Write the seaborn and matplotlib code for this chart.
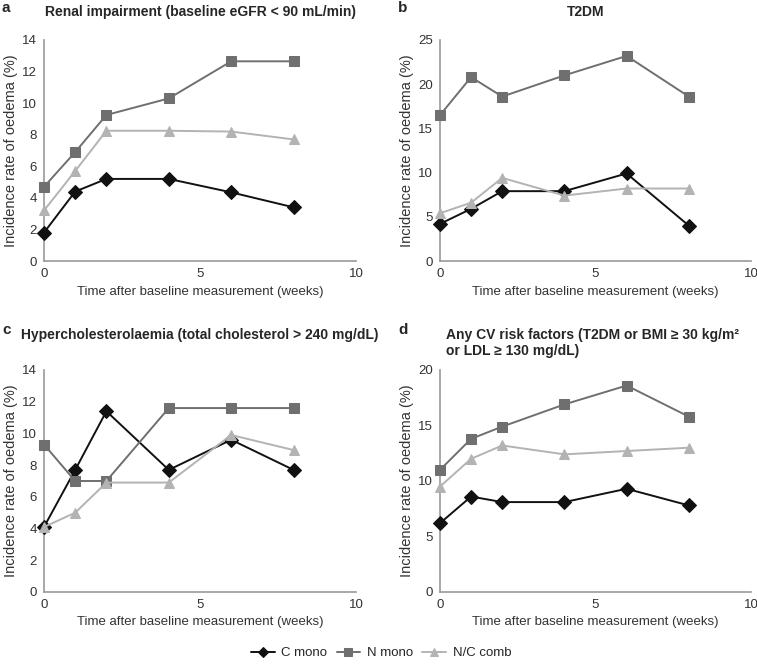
import pandas as pd
import matplotlib.pyplot as plt
import seaborn as sns

weeks = [0, 1, 2, 4, 6, 8]
series_names = ["C mono", "N mono", "N/C comb"]

# panel a - renal impairment
renal_c = [1.8, 4.4, 5.2, 5.2, 4.35, 3.4]
renal_n = [4.7, 6.9, 9.25, 10.3, 12.65, 12.65]
renal_nc = [3.2, 5.7, 8.25, 8.25, 8.2, 7.7]

# panel b - T2DM
t2dm_c = [4.2, 5.9, 7.9, 7.9, 9.9, 4.0]
t2dm_n = [16.5, 20.8, 18.6, 21.0, 23.2, 18.6]
t2dm_nc = [5.4, 6.6, 9.4, 7.4, 8.2, 8.2]

# panel c - hypercholesterolaemia
chol_c = [4.1, 7.7, 11.4, 7.7, 9.6, 7.7]
chol_n = [9.3, 7.0, 7.0, 11.6, 11.6, 11.6]
chol_nc = [4.1, 5.0, 6.9, 6.9, 9.9, 8.95]

# panel d - any CV risk factor
cv_c = [6.2, 8.6, 8.1, 8.1, 9.3, 7.8]
cv_n = [11.0, 13.8, 14.9, 16.9, 18.6, 15.8]
cv_nc = [9.5, 12.0, 13.2, 12.4, 12.7, 13.0]

panel_letters = ["a", "b", "c", "d"]
panel_titles = [
    "Renal impairment (baseline eGFR < 90 mL/min)",
    "T2DM",
    "Hypercholesterolaemia (total cholesterol > 240 mg/dL)",
    "Any CV risk factors (T2DM or BMI \u2265 30 kg/m\u00b2\nor LDL \u2265 130 mg/dL)",
]
y_limits = [(0, 14, 2), (0, 25, 5), (0, 14, 2), (0, 20, 5)]
panel_data = [
    (renal_c, renal_n, renal_nc),
    (t2dm_c, t2dm_n, t2dm_nc),
    (chol_c, chol_n, chol_nc),
    (cv_c, cv_n, cv_nc),
]

colors = {"C mono": "#111111", "N mono": "#6f6f6f", "N/C comb": "#b3b3b3"}
markers = {"C mono": "D", "N mono": "s", "N/C comb": "^"}
msizes = {"C mono": 7, "N mono": 7, "N/C comb": 6.5}

sns.set_style("white")
plt.rcParams["font.family"] = ["Liberation Sans", "DejaVu Sans"]

fig = plt.figure(figsize=(7.57, 6.69), dpi=100)
W, H = 757, 669
# axes boxes in pixels: left, top, right, bottom
boxes = [(44, 40, 356, 261), (440, 40, 751, 261), (44, 370, 356, 592), (440, 370, 751, 592)]
# letter / title offsets above the axes top
letter_off = [32, 32, 40, 40]
title_off = [28, 28, 35, 27]

for i, box in enumerate(boxes):
    l, t, r, b = box
    ax = fig.add_axes([l / W, 1 - b / H, (r - l) / W, (b - t) / H])
    c_vals, n_vals, nc_vals = panel_data[i]
    df = pd.DataFrame({
        "week": weeks * 3,
        "rate": c_vals + n_vals + nc_vals,
        "group": [series_names[0]] * 6 + [series_names[1]] * 6 + [series_names[2]] * 6,
    })
    for name in series_names:
        sub = df[df["group"] == name]
        sns.lineplot(data=sub, x="week", y="rate", ax=ax, color=colors[name],
                     marker=markers[name], markersize=msizes[name],
                     markeredgecolor=colors[name], linewidth=1.4, label=name,
                     legend=False, zorder=3)
    ymin, ymax, ystep = y_limits[i]
    ax.set_xlim(0, 10)
    ax.set_ylim(ymin, ymax)
    ax.set_xticks([0, 5, 10])
    ax.set_yticks(range(ymin, ymax + 1, ystep))
    ax.set_xlabel("Time after baseline measurement (weeks)", fontsize=9.5, color="#333333")
    ax.set_ylabel("Incidence rate of oedema (%)", fontsize=10.5, color="#333333", labelpad=3)
    for sp in ["top", "right"]:
        ax.spines[sp].set_visible(False)
    for sp in ["left", "bottom"]:
        ax.spines[sp].set_color("#999999")
        ax.spines[sp].set_linewidth(1.2)
    ax.tick_params(axis="both", direction="out", length=3, width=1, color="#999999",
                   labelsize=9.5, labelcolor="#333333", pad=2)
    for line in ax.lines:
        line.set_clip_on(False)

    # panel letter and title
    fig.text((l - 42) / W, 1 - (t - letter_off[i]) / H, panel_letters[i], fontsize=11,
             fontweight="bold", va="center", ha="left")
    if i == 3:
        fig.text((l + 6) / W, 1 - (t - title_off[i]) / H, panel_titles[i], fontsize=10,
                 fontweight="bold", va="center", ha="left", linespacing=1.1)
    elif i == 1:
        fig.text((l + r) / 2 / W - 10 / W, 1 - (t - title_off[i]) / H, panel_titles[i],
                 fontsize=10, fontweight="bold", va="center", ha="center")
    else:
        fig.text((l + r) / 2 / W, 1 - (t - title_off[i]) / H, panel_titles[i], fontsize=10,
                 fontweight="bold", va="center", ha="center")

handles = fig.axes[0].lines[:3]
leg = fig.legend(handles, series_names, loc="center", bbox_to_anchor=(381 / W, 1 - 653 / H),
                 ncol=3, frameon=False, fontsize=9.5, handlelength=1.8, columnspacing=0.7,
                 handletextpad=0.5, markerscale=0.8)

fig.savefig("out.png", dpi=100)
